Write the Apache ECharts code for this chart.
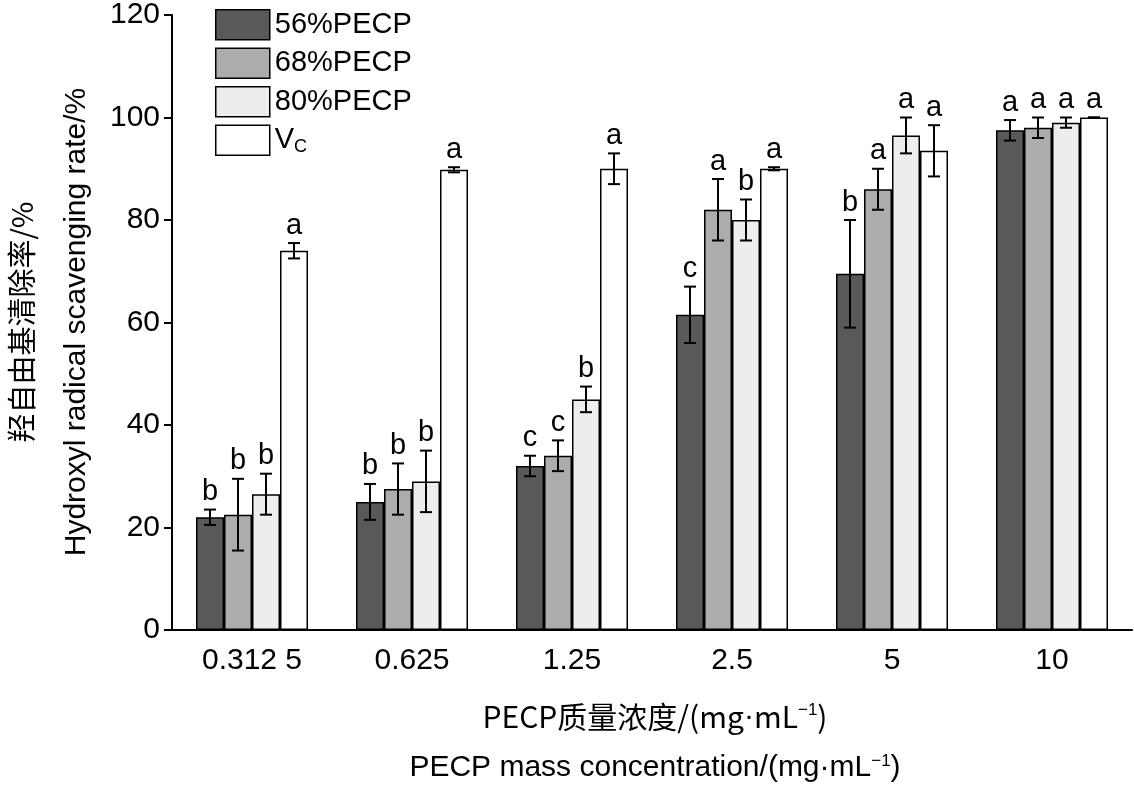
<!DOCTYPE html>
<html><head><meta charset="utf-8">
<script src="https://cdn.jsdelivr.net/npm/echarts@6/dist/echarts.min.js"></script>
<style>html,body{margin:0;background:#fff}#c{width:1134px;height:788px}</style>
</head><body><div id="c"></div>
<script>
var categories = ['0.312 5', '0.625', '1.25', '2.5', '5', '10'];
var seriesNames = ['56%PECP', '68%PECP', '80%PECP', 'Vc'];
var colors = ['#595959', '#aaadaa', '#eceeec', '#ffffff'];
var v56 = [22, 25, 32, 61.5, 69.5, 97.5];
var v68 = [22.5, 27.5, 34, 82, 86, 98];
var v80 = [26.5, 29, 45, 80, 96.5, 99];
var vVc = [74, 89.8, 90, 90, 93.5, 100];
var e56 = [1.5, 3.5, 2, 5.5, 10.5, 2];
var e68 = [7, 5, 3, 6, 4, 2];
var e80 = [4, 6, 2.5, 4, 3.5, 1];
var eVc = [1.5, 0.5, 3, 0.3, 5, 0];
var l56 = ['b', 'b', 'c', 'c', 'b', 'a'];
var l68 = ['b', 'b', 'c', 'a', 'a', 'a'];
var l80 = ['b', 'b', 'b', 'b', 'a', 'a'];
var lVc = ['a', 'a', 'a', 'a', 'a', 'a'];

var vals = [v56, v68, v80, vVc], errs = [e56, e68, e80, eVc], lets = [l56, l68, l80, lVc];
var gapPct = 0.3;
var font = 'Liberation Sans, Arial, sans-serif';
var cjk = '"Noto Sans CJK SC", ' + font;

var series = [];
vals.forEach(function (v, s) {
  series.push({
    name: seriesNames[s], type: 'bar', data: v, barGap: 0, barCategoryGap: '30%',
    itemStyle: { color: colors[s], borderColor: '#000', borderWidth: 1.5 }
  });
});
vals.forEach(function (v, s) {
  series.push({
    type: 'custom', silent: true, z: 5,
    data: v.map(function (d, i) { return [i, d, errs[s][i], lets[s][i]]; }),
    renderItem: function (params, api) {
      var cw = api.size([1, 0])[0];
      var bw = cw * (1 - gapPct) / 4;
      var c = api.coord([api.value(0), api.value(1)]);
      var x = c[0] + (s - 1.5) * bw;
      var e = api.value(2);
      var top = api.coord([0, api.value(1) + e])[1];
      var bot = api.coord([0, api.value(1) - e])[1];
      var st = { stroke: '#000', lineWidth: 2 };
      return { type: 'group', children: [
        { type: 'line', shape: { x1: x, y1: top, x2: x, y2: bot }, style: st },
        { type: 'line', shape: { x1: x - 6, y1: top, x2: x + 6, y2: top }, style: st },
        { type: 'line', shape: { x1: x - 6, y1: bot, x2: x + 6, y2: bot }, style: st },
        { type: 'text', x: x, y: top - 3, style: { text: api.value(3), fill: '#000',
          font: '29px ' + font, align: 'center', verticalAlign: 'bottom' } }
      ] };
    }
  });
});

var chart = echarts.init(document.getElementById('c'));
chart.setOption({
  animation: false,
  grid: { left: 172, top: 15, right: 2, bottom: 158 },
  legend: {
    data: seriesNames, orient: 'vertical', left: 210, top: 4, icon: 'rect',
    itemWidth: 54, itemHeight: 30, itemGap: 7,
    itemStyle: { borderColor: '#000', borderWidth: 1.5 },
    textStyle: { fontSize: 29, fontFamily: font, color: '#000', rich: { sub: { fontSize: 18, verticalAlign: 'bottom', padding: [14, 0, 0, 0] } } },
    formatter: function (n) { return n === 'Vc' ? 'V{sub|C}' : n; }
  },
  xAxis: {
    type: 'category', data: categories,
    axisLine: { lineStyle: { color: '#000', width: 2 } },
    axisTick: { show: false },
    axisLabel: { fontSize: 30, color: '#000', fontFamily: font, margin: 16 }
  },
  yAxis: {
    type: 'value', min: 0, max: 120, interval: 20,
    axisLine: { show: true, lineStyle: { color: '#000', width: 2 } },
    axisTick: { show: true, length: 8, lineStyle: { width: 2 } },
    splitLine: { show: false },
    axisLabel: { fontSize: 30, color: '#000', fontFamily: font, margin: 12 }
  },
  graphic: [
    { type: 'text', rotation: Math.PI / 2, x: 22, y: 322,
      style: { text: '羟自由基清除率/%', font: '29px ' + cjk, fill: '#000', align: 'center', verticalAlign: 'middle' } },
    { type: 'text', rotation: Math.PI / 2, x: 77, y: 322,
      style: { text: 'Hydroxyl radical scavenging rate/%', font: '30px ' + font, fill: '#000', align: 'center', verticalAlign: 'middle' } },
    { type: 'text', x: 655, y: 717,
      style: { rich: { a: { fontSize: 30, fontFamily: cjk }, d: { fontSize: 30, fontFamily: font }, s: { fontSize: 17, verticalAlign: 'top', padding: [0, 0, 14, 0], fontFamily: font } },
        text: '{a|PECP质量浓度/(mg}{d|·}{a|mL}{s|−1}{a|)}', align: 'center', verticalAlign: 'middle', fill: '#000' } },
    { type: 'text', x: 655, y: 768,
      style: { rich: { a: { fontSize: 30, fontFamily: font }, s: { fontSize: 17, verticalAlign: 'top', padding: [0, 0, 14, 0], fontFamily: font } },
        text: '{a|PECP mass concentration/(mg·mL}{s|−1}{a|)}', align: 'center', verticalAlign: 'middle', fill: '#000' } }
  ],
  series: series
});
</script></body></html>
